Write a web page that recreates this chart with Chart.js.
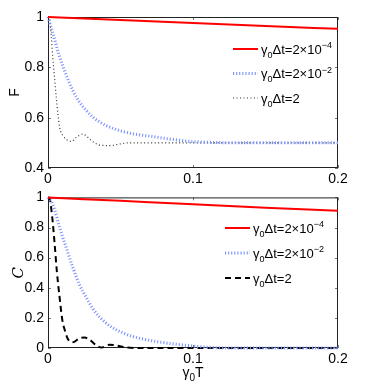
<!DOCTYPE html>
<html>
<head>
<meta charset="utf-8">
<script src="https://cdn.jsdelivr.net/npm/chart.js@4"></script>
<style>
  html, body { margin: 0; padding: 0; background: #fff; }
  #wrap { position: relative; width: 373px; height: 392px; }
  canvas { position: absolute; left: 0; }
  #topChart { top: 0; }
  #bottomChart { top: 185px; }
</style>
</head>
<body>
<div id="wrap">
  <canvas id="topChart" width="373" height="192"></canvas>
  <canvas id="bottomChart" width="373" height="207"></canvas>
</div>
<script>
// legend labels: '_x' = subscript char, '^{..}' = superscript
const labels = ['γ_0Δt=2×10^{−4}', 'γ_0Δt=2×10^{−2}', 'γ_0Δt=2'];
const xTitle = 'γ_0T';
const xTicks = [0, 0.1, 0.2];
const fTicks = [0.4, 0.6, 0.8, 1];
const cTicks = [0, 0.2, 0.4, 0.6, 0.8, 1];

// top panel (F)
const tFRed = [0, 0.05, 0.1, 0.15, 0.2];
const fRed = [1, 0.988, 0.976, 0.964, 0.953];
const tFBlue = [0, 0.0033, 0.008, 0.0126, 0.017, 0.0217, 0.0264, 0.031, 0.04, 0.0517, 0.063, 0.07, 0.084, 0.098, 0.112, 0.13, 0.2];
const fBlue = [1, 0.936, 0.842, 0.769, 0.709, 0.662, 0.629, 0.602, 0.569, 0.545, 0.532, 0.527, 0.515, 0.506, 0.502, 0.5, 0.5];
const tFBlack = [0, 0.0012, 0.0023, 0.0033, 0.0045, 0.0057, 0.0068, 0.008, 0.0103, 0.0138, 0.0163, 0.0196, 0.024, 0.0275, 0.031, 0.037, 0.043, 0.05, 0.056, 0.07, 0.2];
const fBlack = [1, 0.99, 0.92, 0.84, 0.76, 0.68, 0.616, 0.562, 0.529, 0.509, 0.506, 0.522, 0.535, 0.522, 0.504, 0.49, 0.489, 0.496, 0.5, 0.5, 0.5];

// bottom panel (C)
const tCRed = [0, 0.05, 0.1, 0.15, 0.2];
const cRed = [1, 0.977, 0.954, 0.932, 0.911];
const tCBlue = [0, 0.0033, 0.008, 0.0126, 0.017, 0.0217, 0.0264, 0.031, 0.04, 0.0517, 0.063, 0.084, 0.098, 0.11, 0.13, 0.2];
const cBlue = [1, 0.955, 0.80, 0.666, 0.538, 0.42, 0.336, 0.26, 0.166, 0.10, 0.065, 0.03, 0.015, 0.005, 0, 0];
const tCBlack = [0, 0.001, 0.0029, 0.0045, 0.0061, 0.008, 0.0098, 0.0114, 0.0137, 0.017, 0.0217, 0.0252, 0.0287, 0.0334, 0.037, 0.0425, 0.047, 0.054, 0.06, 0.2];
const cBlack = [1, 0.995, 0.87, 0.70, 0.51, 0.336, 0.19, 0.124, 0.06, 0.038, 0.064, 0.07, 0.055, 0.017, 0.003, 0.022, 0.017, 0.004, 0, 0];

const FONT = '"Liberation Sans", Arial, sans-serif';

function pts(xs, ys) {
    return xs.map((x, i) => ({ x: x, y: ys[i] }));
}

function richParts(str) {
    const parts = [];
    let i = 0;
    while (i < str.length) {
        if (str[i] === '_') {
            parts.push({ t: str[i + 1], mode: 'sub' });
            i += 2;
        } else if (str[i] === '^') {
            const j = str.indexOf('}', i);
            parts.push({ t: str.slice(i + 2, j), mode: 'sup' });
            i = j + 1;
        } else {
            let j = i;
            while (j < str.length && str[j] !== '_' && str[j] !== '^') j++;
            parts.push({ t: str.slice(i, j), mode: 'n' });
            i = j;
        }
    }
    return parts;
}

function drawRich(ctx, str, x, y, size, align) {
    const parts = richParts(str);
    const small = Math.round(size * 0.72);
    let w = 0;
    parts.forEach(p => {
        ctx.font = (p.mode === 'n' ? size : small) + 'px ' + FONT;
        p.w = ctx.measureText(p.t).width;
        w += p.w;
    });
    let cx = align === 'center' ? x - w / 2 : x;
    const base = y + size * 0.36;
    ctx.textAlign = 'left';
    ctx.textBaseline = 'alphabetic';
    ctx.fillStyle = '#000';
    parts.forEach(p => {
        ctx.font = (p.mode === 'n' ? size : small) + 'px ' + FONT;
        const dy = p.mode === 'sub' ? size * 0.3 : (p.mode === 'sup' ? -size * 0.42 : 0);
        ctx.fillText(p.t, cx, base + dy);
        cx += p.w;
    });
}

// box + inward tick marks (matlab style)
const boxTicks = {
    id: 'boxTicks',
    beforeDatasetsDraw(chart) {
        const { ctx, chartArea: a, scales: { x, y } } = chart;
        ctx.save();
        ctx.strokeStyle = '#777';
        ctx.lineWidth = 1;
        ctx.beginPath();
        x.ticks.forEach(t => {
            const px = Math.round(x.getPixelForValue(t.value)) + 0.5;
            ctx.moveTo(px, a.top); ctx.lineTo(px, a.top + 3);
            ctx.moveTo(px, a.bottom); ctx.lineTo(px, a.bottom - 3);
        });
        y.ticks.forEach(t => {
            const py = Math.round(y.getPixelForValue(t.value)) + 0.5;
            ctx.moveTo(a.left, py); ctx.lineTo(a.left + 3, py);
            ctx.moveTo(a.right, py); ctx.lineTo(a.right - 3, py);
        });
        ctx.stroke();
        ctx.strokeStyle = '#222';
        ctx.strokeRect(a.left + 0.5, a.top + 0.5, a.right - a.left - 1, a.bottom - a.top - 1);
        ctx.restore();
    }
};

const lineLegend = {
    id: 'lineLegend',
    afterDraw(chart, args, opts) {
        const ctx = chart.ctx;
        ctx.save();
        chart.data.datasets.forEach((ds, i) => {
            const y = opts.y + i * opts.gap;
            ctx.beginPath();
            ctx.strokeStyle = ds.borderColor;
            ctx.lineWidth = ds.borderWidth;
            ctx.setLineDash(ds.borderDash || []);
            ctx.moveTo(opts.x, y);
            ctx.lineTo(opts.x + opts.len, y);
            ctx.stroke();
            ctx.setLineDash([]);
            drawRich(ctx, ds.label, opts.x + opts.len + 3, y, 13, 'left');
        });
        if (opts.xTitle) {
            const a = chart.chartArea;
            drawRich(ctx, opts.xTitle, (a.left + a.right) / 2, opts.xTitleY, 14, 'center');
        }
        ctx.restore();
    }
};

function makeOptions(yMin, yTicks, yTitle, titleFont, titlePad, padTop, xHeight, legendOpts) {
    return {
        responsive: false,
        animation: false,
        layout: { padding: { top: padTop, right: 35, left: 0, bottom: 0 } },
        elements: { point: { radius: 0 }, line: { cubicInterpolationMode: 'monotone' } },
        plugins: {
            legend: { display: false },
            tooltip: { enabled: false },
            lineLegend: legendOpts
        },
        scales: {
            x: {
                type: 'linear', min: 0, max: 0.2,
                afterBuildTicks: s => { s.ticks = xTicks.map(v => ({ value: v })); },
                afterFit: s => { s.height = xHeight; },
                grid: { display: false, drawTicks: false },
                border: { display: false },
                ticks: { color: '#000', padding: 3, font: { family: FONT, size: 14 }, callback: v => String(v) }
            },
            y: {
                min: yMin, max: 1,
                afterBuildTicks: s => { s.ticks = yTicks.map(v => ({ value: v })); },
                afterFit: s => { s.width = 48; },
                grid: { display: false, drawTicks: false },
                border: { display: false },
                ticks: { color: '#000', padding: 4, font: { family: FONT, size: 14 }, callback: v => String(v) },
                title: { display: true, text: yTitle, color: '#000', font: titleFont, padding: { top: titlePad, bottom: 0 } }
            }
        }
    };
}

const redStyle = { borderColor: '#ff0000', borderWidth: 2, clip: 3, fill: false };
const blueStyle = { borderColor: '#7a92ff', borderWidth: 3, borderDash: [1.1, 2], clip: 3, fill: false };

new Chart(document.getElementById('topChart'), {
    type: 'line',
    data: {
        datasets: [
            Object.assign({ label: labels[0], data: pts(tFRed, fRed) }, redStyle),
            Object.assign({ label: labels[1], data: pts(tFBlue, fBlue) }, blueStyle),
            { label: labels[2], data: pts(tFBlack, fBlack), borderColor: '#333', borderWidth: 1.2, borderDash: [1, 2.5], clip: 3, fill: false }
        ]
    },
    options: makeOptions(0.4, fTicks, 'F', { family: FONT, size: 14 }, 7, 17, 24,
        { x: 233, y: 49, gap: 24.5, len: 25 }),
    plugins: [boxTicks, lineLegend]
});

new Chart(document.getElementById('bottomChart'), {
    type: 'line',
    data: {
        datasets: [
            Object.assign({ label: labels[0], data: pts(tCRed, cRed) }, redStyle),
            Object.assign({ label: labels[1], data: pts(tCBlue, cBlue) }, blueStyle),
            { label: labels[2], data: pts(tCBlack, cBlack), borderColor: '#000', borderWidth: 2, borderDash: [6, 4], clip: 3, fill: false }
        ]
    },
    options: makeOptions(0, cTicks, 'C', { family: '"DejaVu Serif", serif', size: 15, style: 'italic' }, 10, 6, 44,
        { x: 225, y: 43, gap: 25, len: 25, xTitle: xTitle, xTitleY: 187 }),
    plugins: [boxTicks, lineLegend]
});
</script>
</body>
</html>
